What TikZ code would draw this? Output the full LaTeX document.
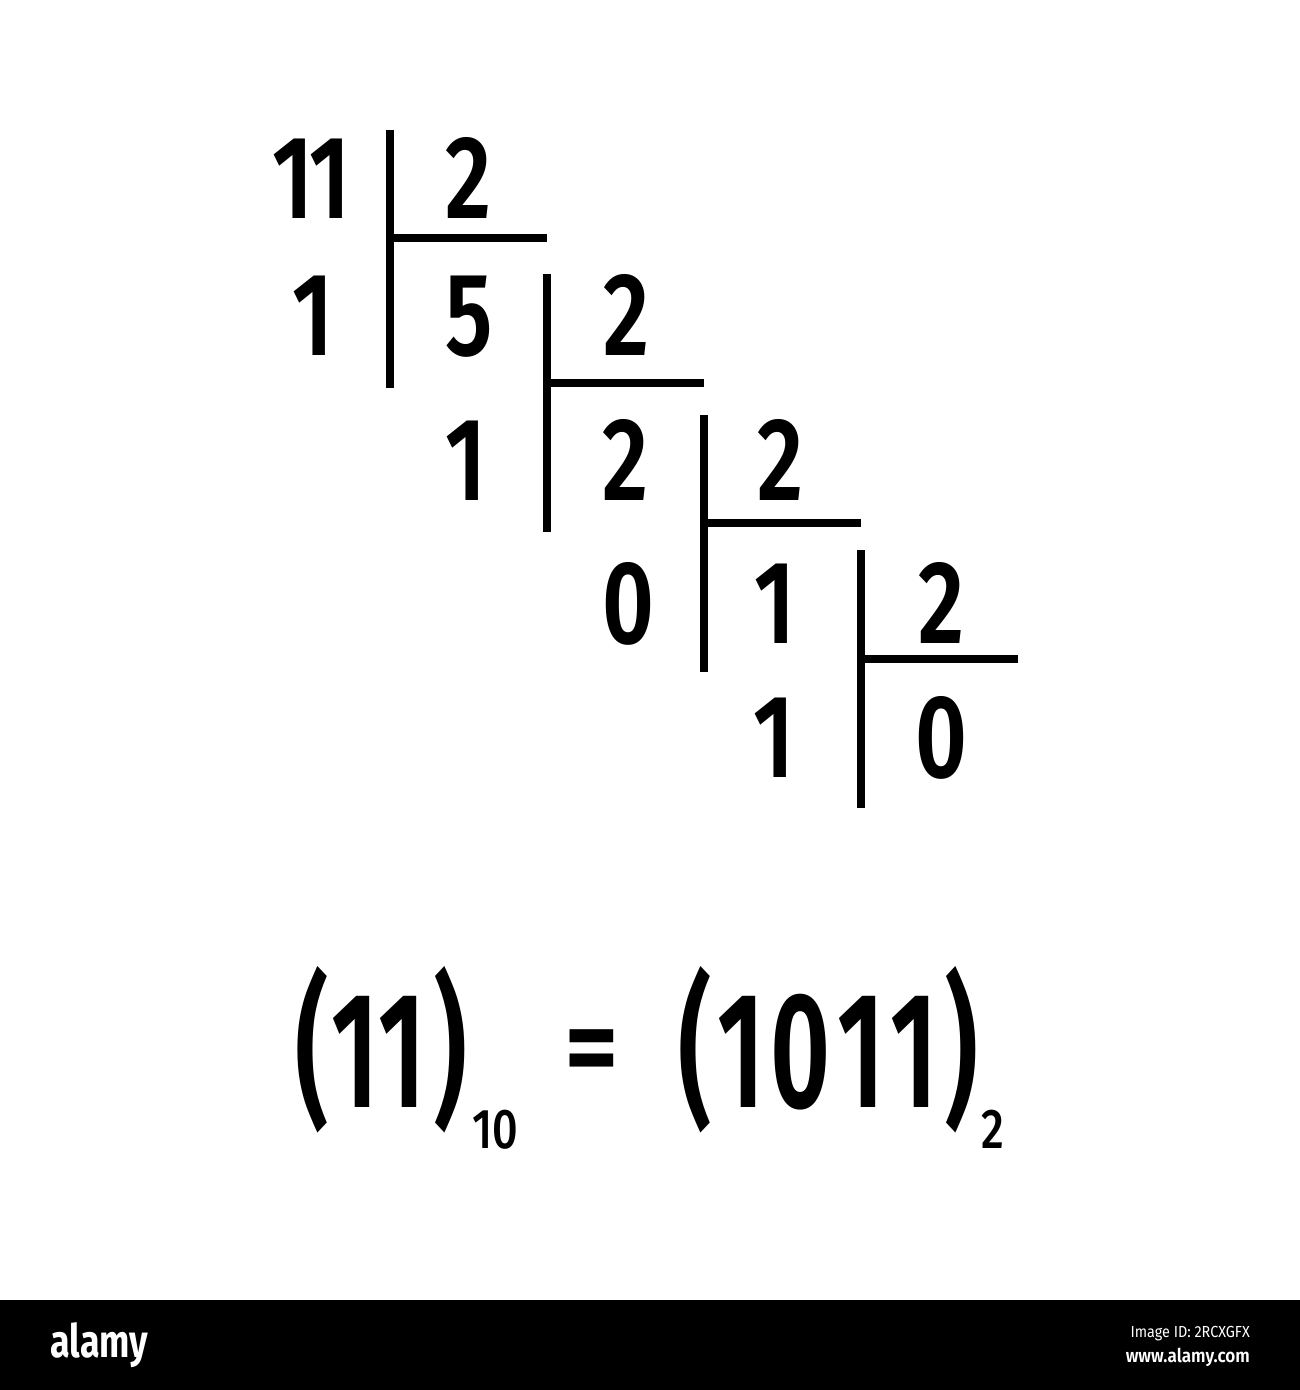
\documentclass[tikz,border=0pt]{standalone}
\usepackage{fontspec}
\setmainfont{Fira Sans}
\newfontfamily\digfont{Fira Sans SemiBold}[Numbers={Proportional,Lining},FakeStretch=0.76]
\newfontfamily\bigfont{Fira Sans SemiBold}[Numbers={Proportional,Lining},FakeStretch=0.63]
\newfontfamily\eqfont{Fira Sans SemiBold}[FakeStretch=0.9]
\newfontfamily\subfont{Fira Sans Medium}[Numbers={Proportional,Lining},FakeStretch=0.8]
\newfontfamily\wmfont{Fira Sans}[FakeStretch=0.9]
\newfontfamily\wmsemi{Fira Sans SemiBold}[FakeStretch=0.9]
\newfontfamily\wmbold{Fira Sans Bold}[FakeStretch=0.78]
\newcommand{\gl}[2]{\makebox[#1pt][c]{#2}}
\begin{document}
\begin{tikzpicture}[x=1pt,y=-1pt,
  num/.style={anchor=base,inner sep=0pt,font=\digfont\fontsize{118}{118}\selectfont},
  big/.style={anchor=base west,inner sep=0pt,font=\bigfont\fontsize{165}{165}\selectfont},
  sub/.style={anchor=base,inner sep=0pt,font=\subfont\fontsize{56}{56}\selectfont},
  rule/.style={line width=8pt,line cap=butt,black}]
\useasboundingbox (0,0) rectangle (1300,1390);
\fill[white] (0,0) rectangle (1300,1390);
\fill[black] (0,1300) rectangle (1300,1390);
% division ladder
\foreach \k/\vt/\vb/\h in {0/130/388/238, 1/274/532/383, 2/415/672/523, 3/550/808/659}{
  \draw[rule] ({390+157*\k},\vt) -- ({390+157*\k},\vb);
  \draw[rule] ({390+157*\k},\h) -- ({547+157*\k},\h);
}
\node[num] (n11) at (311,218) {\gl{37}{1}\gl{37}{1}};
\node[num] (d1) at (468,218) {2};
\node[num] (r1) at (313,355) {1};
\node[num] (q1) at (469,355) {5};
\node[num] (d2) at (626,355) {2};
\node[num] (r2) at (466,500) {1};
\node[num] (q2) at (625,500) {2};
\node[num] (d3) at (780,500) {2};
\node[num] (r3) at (628,643) {0};
\node[num] (q3) at (775,643) {1};
\node[num] (d4) at (941,643) {2};
\node[num] (r4) at (774,777) {1};
\node[num] (q4) at (941,777) {0};
% result
\node[big] (lhs) at (291.5,1107) {\gl{41}{(}\gl{45}{1}\gl{48.5}{1}\gl{48}{)}};
\node[sub] (b10) at (495,1148) {10};
\node[anchor=center,inner sep=0pt,font=\eqfont\fontsize{118}{118}\selectfont] (eq) at (592,1059) {=};
\node[big] (rhs) at (674.5,1107) {\gl{41}{(}\gl{52}{1}\gl{65}{0}\gl{58}{1}\gl{47.5}{1}\gl{46}{)}};
\node[sub] (b2) at (993,1148) {2};
% watermark bar
\node[anchor=base west,inner sep=0pt,text=white,font=\wmbold\fontsize{46}{46}\selectfont] (alamy) at (50,1357) {alamy};
\node[anchor=base east,inner sep=0pt,text=white,font=\wmfont\fontsize{16}{16}\selectfont] (imgid) at (1250,1337) {Image ID: 2RCXGFX};
\node[anchor=base east,inner sep=0pt,text=white,font=\wmsemi\fontsize{19}{19}\selectfont] (www) at (1250,1362) {www.alamy.com};
\end{tikzpicture}
\end{document}
